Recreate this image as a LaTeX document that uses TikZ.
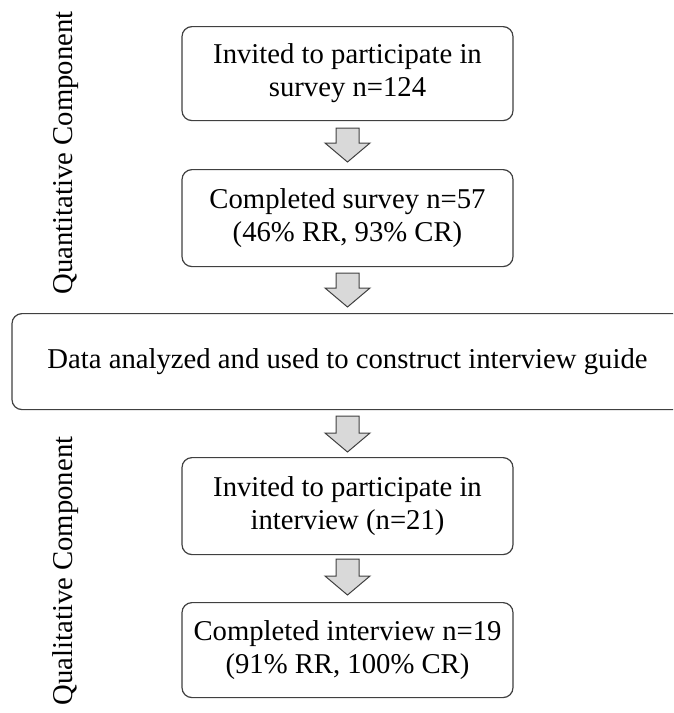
\documentclass[tikz,border=0pt]{standalone}
\usepackage{fontspec}
\setmainfont{Liberation Serif}
\usetikzlibrary{calc}
\definecolor{edge}{HTML}{404040}
\definecolor{arrowfill}{HTML}{D9D9D9}
\tikzset{
  flowbox/.style={draw=edge, line width=1.2pt, rounded corners=10pt, fill=white,
    minimum width=331pt, align=center, inner sep=0pt,
    font=\fontsize{28.7}{33}\selectfont},
  sidelabel/.style={rotate=90, inner sep=0pt, font=\fontsize{28.7}{33}\selectfont},
  blockarrow/.style={draw=edge, line width=1pt, fill=arrowfill, line join=miter}
}
\newcommand{\fatarrow}[2]{%
  \path[blockarrow] ($(#1)+(-11.5,0)$) -- ($(#1)+(11.5,0)$) -- ($(#2)+(11.5,-19)$)
    -- ($(#2)+(22.5,-19)$) -- (#2) -- ($(#2)+(-22.5,-19)$) -- ($(#2)+(-11.5,-19)$) -- cycle;}
\begin{document}
\begin{tikzpicture}[x=1pt, y=-1pt]
\useasboundingbox (0,0) rectangle (673,713);
\clip (0,0) rectangle (673,713);
\node[flowbox, minimum height=94pt, anchor=north] (b1) at (347.5,26) {Invited to participate in\\survey n=124};
\node[flowbox, minimum height=97pt, anchor=north] (b2) at (347.5,169) {Completed survey n=57\\(46\% RR, 93\% CR)};
\node[flowbox, minimum width=671pt, minimum height=96pt, anchor=north] (b3) at (347.5,313) {Data analyzed and used to construct interview guide};
\node[flowbox, minimum height=97pt, anchor=north] (b4) at (347.5,457) {Invited to participate in\\interview (n=21)};
\node[flowbox, minimum height=95pt, anchor=north] (b5) at (347.5,602) {Completed interview n=19\\(91\% RR, 100\% CR)};
\node[sidelabel] (q1) at (66,153) {Quantitative Component};
\node[sidelabel] (q2) at (66,571) {Qualitative Component};
\coordinate (a1s) at ($(b1.south)+(0,7)$);
\coordinate (a1e) at ($(b2.north)+(0,-7)$);
\coordinate (a2s) at ($(b2.south)+(0,6)$);
\coordinate (a2e) at ($(b3.north)+(0,-6)$);
\coordinate (a3s) at ($(b3.south)+(0,6)$);
\coordinate (a3e) at ($(b4.north)+(0,-5)$);
\coordinate (a4s) at ($(b4.south)+(0,4)$);
\coordinate (a4e) at ($(b5.north)+(0,-7)$);
\fatarrow{a1s}{a1e}
\fatarrow{a2s}{a2e}
\fatarrow{a3s}{a3e}
\fatarrow{a4s}{a4e}
\end{tikzpicture}
\end{document}
